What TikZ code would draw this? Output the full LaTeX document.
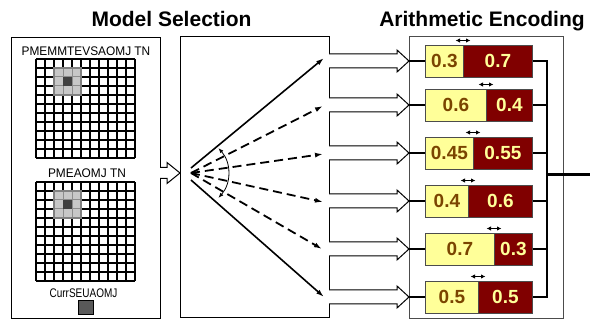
\documentclass[tikz,border=0pt]{standalone}
\usepackage{fontspec}
\setmainfont{Liberation Sans}
\usepackage{graphicx}
\usetikzlibrary{arrows.meta,calc}
\definecolor{pale}{HTML}{FFFF99}
\definecolor{darkred}{HTML}{800000}
\definecolor{numbrown}{HTML}{7A4400}
\begin{document}
\begin{tikzpicture}[x=1pt,y=-1pt,
  titletext/.style={font=\fontsize{21}{21}\selectfont\bfseries, inner sep=0pt, anchor=base},
  boxframe/.style={draw, line width=1.2pt, anchor=north west, inner sep=0pt},
  lbl/.style={font=\fontsize{12.5}{12.5}\selectfont, inner sep=0pt},
  gridline/.style={line width=1.05pt},
  ybar/.style={draw=black!70, line width=0.8pt, fill=pale, minimum height=32pt, inner sep=0pt, anchor=west,
     text=numbrown, font=\fontsize{19}{19}\selectfont\bfseries},
  rbar/.style={draw=black!70, line width=0.8pt, fill=darkred, minimum height=32pt, inner sep=0pt, anchor=west,
     text=pale, font=\fontsize{19}{19}\selectfont\bfseries},
  hollow/.style={draw, fill=white, line width=1pt, line join=miter},
  thickline/.style={line width=2.8pt},
  solidarr/.style={line width=1.6pt, -{Latex[length=8pt,width=5pt]}},
  dasharr/.style={line width=1.8pt, dash pattern=on 9pt off 5pt, -{Latex[length=8pt,width=5pt]}},
  smallarr/.style={line width=1pt, {Latex[length=4.5pt,width=4.5pt]}-{Latex[length=4.5pt,width=4.5pt]}}
]
\useasboundingbox (0,0) rectangle (590,320);

% titles
\node[titletext] (t1) at (171.5,27) {Model Selection};
\node[titletext] (t2) at (482,27) {Arithmetic Encoding};

% boxes
\node[boxframe, minimum width=149pt, minimum height=281pt] (lbox) at (11,37) {};
\node[boxframe, minimum width=149pt, minimum height=281pt] (mbox) at (180,36) {};
\node[boxframe, draw=black!70, line width=1pt, minimum width=154pt, minimum height=282pt] (rbox) at (409,36) {};

% left box labels
\node[lbl] (l1) at (86,51) {\scalebox{0.95}[1]{PMEMMTEVSAOMJ TN}};
\node[lbl] (l2) at (87,173) {\scalebox{0.95}[1]{PMEAOMJ TN}};
\node[lbl] (l3) at (83.5,293) {\scalebox{0.8}[1]{CurrSEUAOMJ}};

% grids
\foreach \gy in {59,182}{
  \foreach \k in {0,...,11}{
    \draw[gridline] (36+9*\k,\gy) -- (36+9*\k,\gy+99);
    \draw[gridline] (36,\gy+9*\k) -- (135,\gy+9*\k);
  }
  \fill[black!22] (54,\gy+9) rectangle (81,\gy+36);
  \draw[black!45, line width=1pt] (63,\gy+9) -- (63,\gy+36) (72,\gy+9) -- (72,\gy+36)
     (54,\gy+18) -- (81,\gy+18) (54,\gy+27) -- (81,\gy+27);
  \fill[black!75] (63,\gy+18) rectangle (72,\gy+27);
  \draw[black!50, line width=1.6pt] (54,\gy+9) rectangle (81,\gy+36);
}
\node[draw, fill=black!65, line width=1pt, minimum width=15pt, minimum height=14pt, inner sep=0pt] (cur) at (85.5,308) {};

% left hollow arrow
\coordinate (la) at (180,173);
\draw[hollow] ($(la)+(-20,-5.5)$) -- ($(la)+(-13,-5.5)$) -- ($(la)+(-13,-10.5)$) -- (la)
   -- ($(la)+(-13,10.5)$) -- ($(la)+(-13,5.5)$) -- ($(la)+(-20,5.5)$);

% model selection arrows
\coordinate (o1) at (191,168);
\coordinate (o2) at (191,173);
\coordinate (o3) at (191,180);
\coordinate (e1) at (324,58);
\coordinate (e2) at (323,106);
\coordinate (e3) at (323,154);
\coordinate (e4) at (323,202);
\coordinate (e5) at (322,249);
\coordinate (e6) at (324,297);
\draw[solidarr] (o1) -- (e1);
\draw[solidarr] (o3) -- (e6);
\foreach \k in {2,3,4,5}{\draw[dasharr] (o2) -- (e\k);}
\coordinate (a1) at (218.5,148.2);
\coordinate (a2) at (218.5,197.8);
\draw[line width=0.8pt, {Latex[length=5pt,width=4pt]}-{Latex[length=5pt,width=4pt]}] (a1) to[bend left=42] (a2);

% arithmetic encoding rows
\foreach \i/\c/\s/\a/\b in {1/61/463/0.3/0.7, 2/105/486/0.6/0.4, 3/153/473/0.45/0.55,
                            4/201/468/0.4/0.6, 5/249/494/0.7/0.3, 6/297/478/0.5/0.5}{
  \pgfmathsetmacro\wy{\s-425}
  \pgfmathsetmacro\wr{532-\s}
  \coordinate (in\i) at (409,\c);
  \coordinate (bus\i) at (547,\c);
  \coordinate (sp\i) at (\s,\c);
  \draw[hollow] ($(in\i)+(-80,-7)$) -- ($(in\i)+(-12,-7)$) -- ($(in\i)+(-12,-11)$) -- (in\i)
     -- ($(in\i)+(-12,11)$) -- ($(in\i)+(-12,7)$) -- ($(in\i)+(-80,7)$);
  \node[ybar, minimum width=\wy pt] (y\i) at (425,\c) {\a};
  \node[rbar, minimum width=\wr pt] (r\i) at (sp\i) {\b};
  \draw[thickline] (in\i) -- (y\i.west);
  \draw[smallarr] ($(sp\i)+(-7.5,-20.5)$) -- ($(sp\i)+(7.5,-20.5)$);
}
\draw[thickline, line join=miter] (r1.east) -- (bus1) -- (bus6) -- (r6.east);
\foreach \i in {2,3,4,5}{\draw[thickline] (r\i.east) -- (bus\i);}
\coordinate (busout) at (547,174.5);
\coordinate (outend) at (590,174.5);
\draw[thickline] (busout) -- (outend);
\end{tikzpicture}
\end{document}
